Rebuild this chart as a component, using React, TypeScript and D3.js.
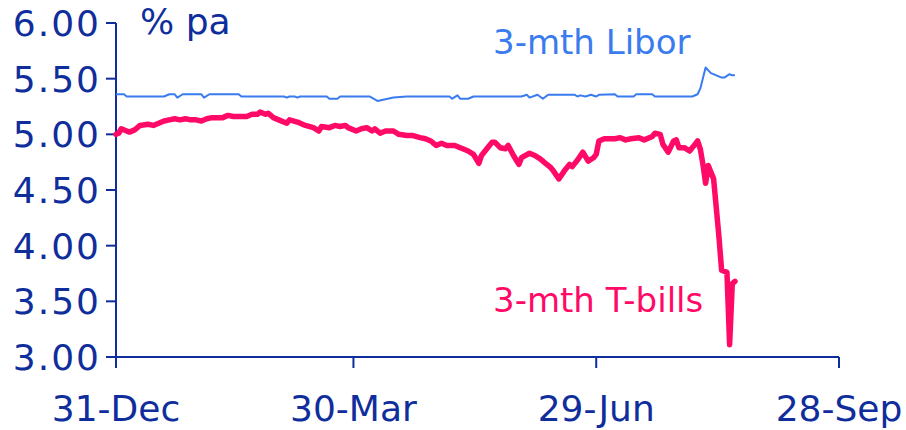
import React from "react";
import * as d3 from "d3";

// Days counted from 31-Dec
const tbillDays = [0, 1, 2, 4, 5, 7, 9, 12, 14, 16, 18, 20, 22, 24, 26, 28, 30, 32, 34, 36, 39, 40, 42, 44, 49, 51, 53, 54, 56, 57, 59, 61, 64, 65, 68, 71, 74, 76, 77, 80, 82, 84, 86, 87, 90, 92, 94, 96, 97, 99, 101, 104, 106, 109, 111, 114, 116, 118, 120, 122, 124, 127, 129, 130, 132, 134, 136, 137, 139, 141, 142, 144, 146, 147, 149, 151, 152, 155, 157, 159, 161, 163, 164, 166, 168, 170, 171, 173, 175, 177, 179, 180, 181, 183, 187, 189, 191, 193, 196, 198, 201, 202, 204, 205, 207, 209, 210, 211, 213, 215, 217, 218, 219, 220, 221, 222, 224, 226, 227, 229, 230, 231, 232];
const tbillValues = [5.00, 5.01, 5.05, 5.03, 5.02, 5.04, 5.08, 5.09, 5.08, 5.10, 5.12, 5.13, 5.14, 5.13, 5.14, 5.13, 5.13, 5.12, 5.14, 5.15, 5.15, 5.15, 5.17, 5.16, 5.16, 5.18, 5.18, 5.20, 5.18, 5.19, 5.15, 5.13, 5.10, 5.13, 5.11, 5.08, 5.06, 5.03, 5.07, 5.06, 5.08, 5.07, 5.08, 5.06, 5.03, 5.05, 5.06, 5.03, 5.05, 5.01, 5.03, 5.03, 5.00, 4.99, 4.99, 4.97, 4.96, 4.94, 4.90, 4.92, 4.90, 4.90, 4.88, 4.87, 4.85, 4.82, 4.74, 4.81, 4.87, 4.93, 4.93, 4.88, 4.87, 4.90, 4.81, 4.73, 4.79, 4.83, 4.81, 4.78, 4.74, 4.70, 4.67, 4.60, 4.67, 4.73, 4.71, 4.77, 4.84, 4.76, 4.79, 4.82, 4.94, 4.96, 4.96, 4.97, 4.95, 4.96, 4.97, 4.95, 4.98, 5.01, 5.00, 4.91, 4.84, 4.94, 4.95, 4.88, 4.88, 4.85, 4.91, 4.94, 4.87, 4.73, 4.56, 4.72, 4.60, 4.08, 3.78, 3.76, 3.11, 3.66, 3.68];

const liborDays = [0, 3, 4, 18, 20, 22, 23, 25, 32, 33, 35, 46, 47, 63, 64, 65, 67, 68, 69, 79, 80, 83, 84, 95, 98, 104, 109, 125, 126, 128, 129, 132, 134, 152, 154, 155, 158, 160, 162, 172, 173, 174, 176, 178, 180, 181, 187, 188, 194, 195, 201, 202, 216, 218, 219, 221, 223, 225, 227, 228, 230, 231, 232];
const liborValues = [5.36, 5.36, 5.34, 5.34, 5.36, 5.36, 5.33, 5.36, 5.36, 5.33, 5.36, 5.36, 5.34, 5.34, 5.33, 5.34, 5.34, 5.33, 5.34, 5.34, 5.32, 5.32, 5.34, 5.34, 5.30, 5.33, 5.34, 5.34, 5.32, 5.35, 5.32, 5.32, 5.34, 5.34, 5.355, 5.33, 5.355, 5.32, 5.355, 5.355, 5.34, 5.35, 5.34, 5.355, 5.34, 5.355, 5.36, 5.34, 5.34, 5.36, 5.36, 5.34, 5.34, 5.36, 5.41, 5.60, 5.55, 5.53, 5.51, 5.51, 5.54, 5.53, 5.53];

const xTickDays = [0, 89, 180, 271];
const xTickLabels = ["31-Dec", "30-Mar", "29-Jun", "28-Sep"];
const yTicks = [3.0, 3.5, 4.0, 4.5, 5.0, 5.5, 6.0];

const AXIS = "#0f2e9c";
const PINK = "#ff0a66";
const BLUE = "#3a7bef";
const FONT = "'DejaVu Sans', Verdana, sans-serif";

export default function App() {
  const width = 906;
  const height = 430;
  const x = d3.scaleLinear().domain([0, 271]).range([116, 839]);
  const y = d3.scaleLinear().domain([3, 6]).range([357, 23]);

  const tbill = tbillDays.map((d, i) => [d, tbillValues[i]] as [number, number]);
  const libor = liborDays.map((d, i) => [d, liborValues[i]] as [number, number]);
  const line = d3
    .line<[number, number]>()
    .x((d) => x(d[0]))
    .y((d) => y(d[1]));

  return (
    <svg
      width={width}
      height={height}
      style={{ position: "absolute", left: 0, top: 0, background: "#fff" }}
      fontFamily={FONT}
    >
      {/* y axis */}
      <line x1={x(0)} x2={x(0)} y1={y(6)} y2={y(3)} stroke={AXIS} strokeWidth={2} />
      {yTicks.map((t) => (
        <g key={t}>
          <line x1={x(0) - 10} x2={x(0)} y1={y(t)} y2={y(t)} stroke={AXIS} strokeWidth={2} />
          <text
            x={101}
            y={y(t)}
            dy="0.36em"
            textAnchor="end"
            fontSize={36}
            letterSpacing={2}
            fill={AXIS}
          >
            {d3.format(".2f")(t)}
          </text>
        </g>
      ))}
      {/* x axis */}
      <line x1={x(0) - 10} x2={x(271)} y1={y(3)} y2={y(3)} stroke={AXIS} strokeWidth={2} />
      {xTickDays.map((d, i) => (
        <g key={d}>
          <line x1={x(d)} x2={x(d)} y1={y(3)} y2={y(3) + 11} stroke={AXIS} strokeWidth={2} />
          <text x={x(d)} y={421} textAnchor="middle" fontSize={36} fill={AXIS}>
            {xTickLabels[i]}
          </text>
        </g>
      ))}
      <text x={140} y={34} fontSize={36} fill={AXIS}>
        % pa
      </text>

      {/* series */}
      <path d={line(libor) || ""} fill="none" stroke={BLUE} strokeWidth={2} strokeLinejoin="round" />
      <path
        d={line(tbill) || ""}
        fill="none"
        stroke={PINK}
        strokeWidth={5.5}
        strokeLinejoin="round"
        strokeLinecap="round"
      />

      <text x={493} y={54} fontSize={34} fill={BLUE}>
        3-mth Libor
      </text>
      <text x={493} y={312} fontSize={34} fill={PINK}>
        3-mth T-bills
      </text>
    </svg>
  );
}
